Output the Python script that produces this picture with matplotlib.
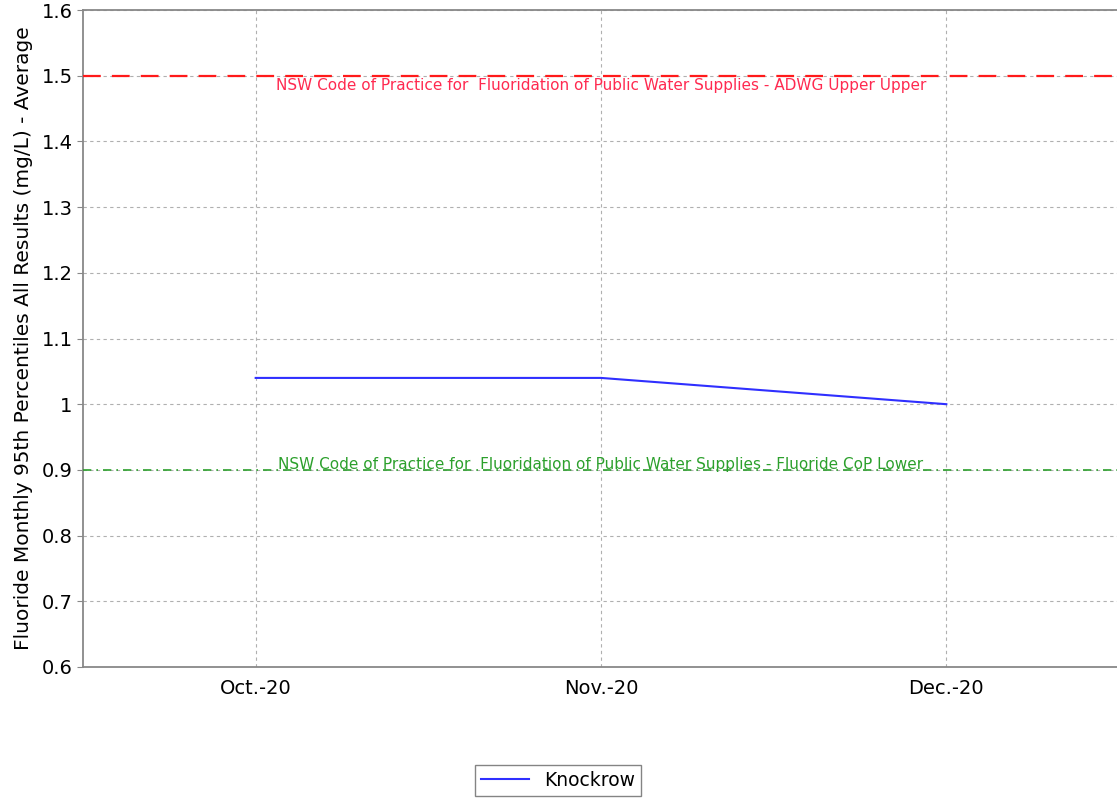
import matplotlib
matplotlib.use("Agg")
import matplotlib.pyplot as plt

months = ["Oct.-20", "Nov.-20", "Dec.-20"]
knockrow = [1.04, 1.04, 1.0]
upper_limit = 1.5
lower_limit = 0.9
upper_label = "NSW Code of Practice for  Fluoridation of Public Water Supplies - ADWG Upper Upper"
lower_label = "NSW Code of Practice for  Fluoridation of Public Water Supplies - Fluoride CoP Lower"
y_ticks = [0.6, 0.7, 0.8, 0.9, 1.0, 1.1, 1.2, 1.3, 1.4, 1.5, 1.6]
y_tick_labels = ["0.6", "0.7", "0.8", "0.9", "1", "1.1", "1.2", "1.3", "1.4", "1.5", "1.6"]

plt.rcParams["font.family"] = ["DejaVu Sans"]

fig = plt.figure(figsize=(11.17, 8.01), dpi=100)
ax = fig.add_axes([83 / 1117, 1 - 667 / 801, 1036 / 1117, 657 / 801])

x = list(range(len(months)))
ax.plot(x, knockrow, color="#2f2fff", lw=1.5, label="Knockrow")

ax.axhline(upper_limit, color="#ff1a1a", lw=1.6, ls=(0, (8, 5)), zorder=3)
ax.axhline(lower_limit, color="#2ca02c", lw=1.2, ls=(0, (5, 3, 1, 3)), zorder=3)
ax.text(0.5, upper_limit - 0.004, upper_label, transform=ax.get_yaxis_transform(),
        ha="center", va="top", color="#ff2a50", fontsize=11)
ax.text(0.5, lower_limit - 0.003, lower_label, transform=ax.get_yaxis_transform(),
        ha="center", va="bottom", color="#2ca02c", fontsize=11)

ax.set_xlim(-0.5, len(months) - 0.5)
ax.set_ylim(0.6, 1.6)
ax.set_xticks(x)
ax.set_xticklabels(months)
ax.set_yticks(y_ticks)
ax.set_yticklabels(y_tick_labels)
ax.tick_params(labelsize=14, length=4, color="#888888")
ax.tick_params(axis="x", pad=9, length=0)
ax.grid(True, color="#b0b0b0", ls=(0, (3, 3)), lw=0.8)
for s in ax.spines.values():
    s.set_color("#888888")
    s.set_linewidth(1.3)
ax.set_ylabel("Fluoride Monthly 95th Percentiles All Results (mg/L) - Average", fontsize=14.5, labelpad=6)

fig.legend(loc="lower center", bbox_to_anchor=(558 / 1117, -0.005), fontsize=13.5, frameon=True,
           fancybox=False, edgecolor="#666666", handlelength=2.6, borderpad=0.3)

fig.savefig("out.png", dpi=100)
